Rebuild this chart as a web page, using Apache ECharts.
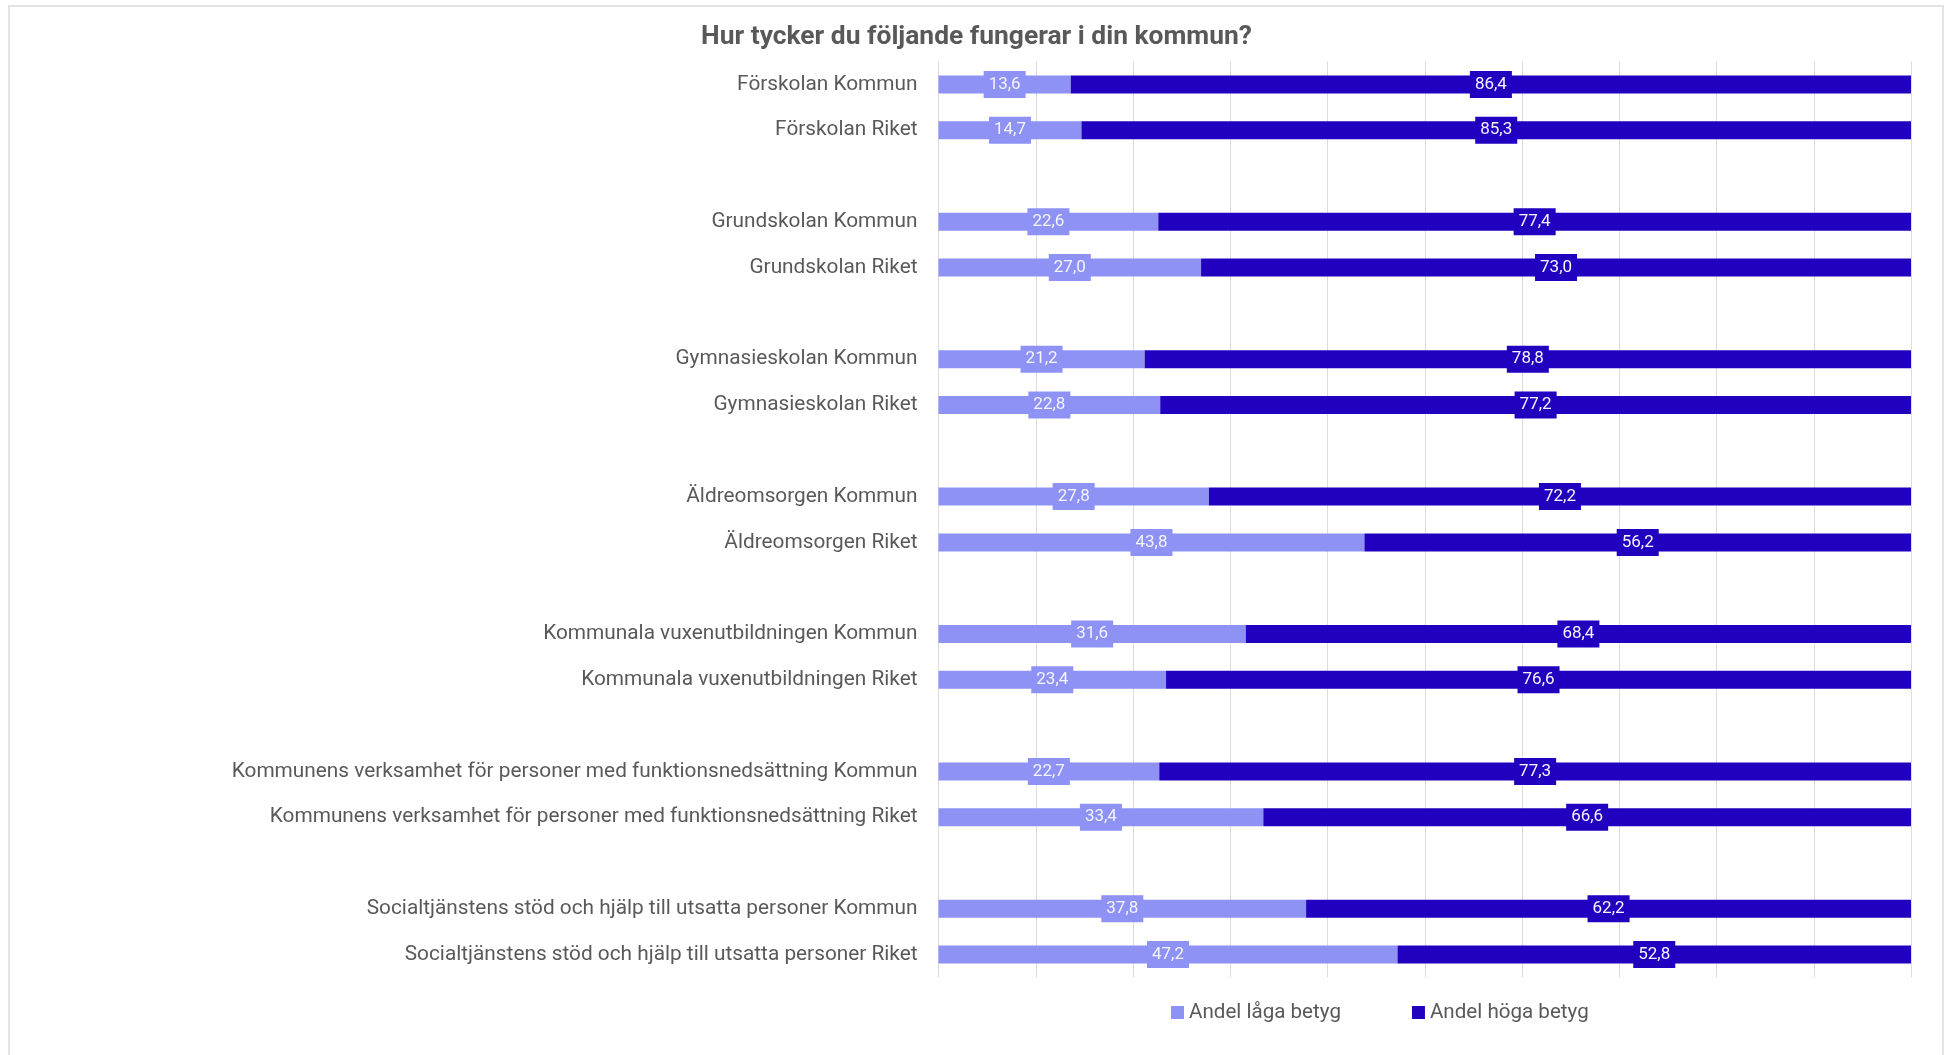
<!DOCTYPE html>
<html>
<head>
<meta charset="utf-8">
<script src="https://cdn.jsdelivr.net/npm/echarts@6/dist/echarts.min.js"></script>
<style>
  html, body { margin: 0; padding: 0; background: #fff; overflow: hidden; }
  #frame { position: absolute; left: 8px; top: 5px; width: 1936px; height: 1100px; border: 2px solid #e2e2e2; box-sizing: border-box; pointer-events: none; }
  #chart { position: absolute; left: 0; top: 0; width: 1953px; height: 1055px; }
</style>
</head>
<body>
<div id="chart"></div>
<div id="frame"></div>
<script>
// Data
const titleText = 'Hur tycker du följande fungerar i din kommun?';
const groups = [
  'Förskolan',
  'Grundskolan',
  'Gymnasieskolan',
  'Äldreomsorgen',
  'Kommunala vuxenutbildningen',
  'Kommunens verksamhet för personer med funktionsnedsättning',
  'Socialtjänstens stöd och hjälp till utsatta personer'
];
const levels = ['Kommun', 'Riket'];
const seriesNames = ['Andel låga betyg', 'Andel höga betyg'];
// values in group order: [Kommun, Riket] per group
const lowValues  = [13.6, 14.7, 22.6, 27.0, 21.2, 22.8, 27.8, 43.8, 31.6, 23.4, 22.7, 33.4, 37.8, 47.2];
const highValues = [86.4, 85.3, 77.4, 73.0, 78.8, 77.2, 72.2, 56.2, 68.4, 76.6, 77.3, 66.6, 62.2, 52.8];
const colors = ['#8E92F4', '#2200BF'];

// Build category slots (pair of rows + blank spacer row between groups)
const categories = [];
const lowData = [];
const highData = [];
let k = 0;
groups.forEach((g, gi) => {
  levels.forEach(l => {
    categories.push(g + ' ' + l);
    lowData.push(lowValues[k]);
    highData.push(highValues[k]);
    k++;
  });
  if (gi < groups.length - 1) {
    categories.push(' '.repeat(gi + 1));
    lowData.push(null);
    highData.push(null);
  }
});

const fmt = p => p.value == null ? '' : Number(p.value).toFixed(1).replace('.', ',');

const chart = echarts.init(document.getElementById('chart'), null, { renderer: 'canvas' });
const font = 'Roboto';
chart.setOption({
  animation: false,
  backgroundColor: 'transparent',
  title: {
    text: titleText,
    left: 'center',
    top: 19,
    textStyle: { fontFamily: font, fontSize: 26.4, fontWeight: 'bold', color: '#595959' }
  },
  legend: {
    data: seriesNames,
    left: 1166,
    top: 997,
    itemWidth: 13,
    itemHeight: 13,
    itemGap: 71,
    icon: 'rect',
    textStyle: { fontFamily: font, fontSize: 20.6, color: '#595959' }
  },
  grid: { left: 938.5, right: 42, top: 61.5, height: 916, containLabel: false },
  xAxis: {
    type: 'value',
    min: 0, max: 100, interval: 10,
    axisLabel: { show: false },
    axisLine: { show: false },
    axisTick: { show: false },
    splitLine: { show: true, lineStyle: { color: '#dcdcdc', width: 1 } }
  },
  yAxis: {
    type: 'category',
    inverse: true,
    data: categories,
    axisLine: { show: false },
    axisTick: { show: false },
    axisLabel: { fontFamily: font, fontSize: 20.8, color: '#595959', margin: 21 }
  },
  series: [
    {
      name: seriesNames[0], type: 'bar', stack: 'total', barWidth: 18,
      data: lowData,
      itemStyle: { color: colors[0] },
      label: {
        show: true, position: 'inside', formatter: fmt,
        fontFamily: font, fontSize: 17, color: '#f4f4ff',
        backgroundColor: colors[0], padding: [5, 5, 5, 5]
      }
    },
    {
      name: seriesNames[1], type: 'bar', stack: 'total', barWidth: 18,
      data: highData,
      itemStyle: { color: colors[1] },
      label: {
        show: true, position: 'inside', formatter: fmt,
        fontFamily: font, fontSize: 17, color: '#f4f4ff',
        backgroundColor: colors[1], padding: [5, 5, 5, 5]
      }
    }
  ]
});
</script>
</body>
</html>
